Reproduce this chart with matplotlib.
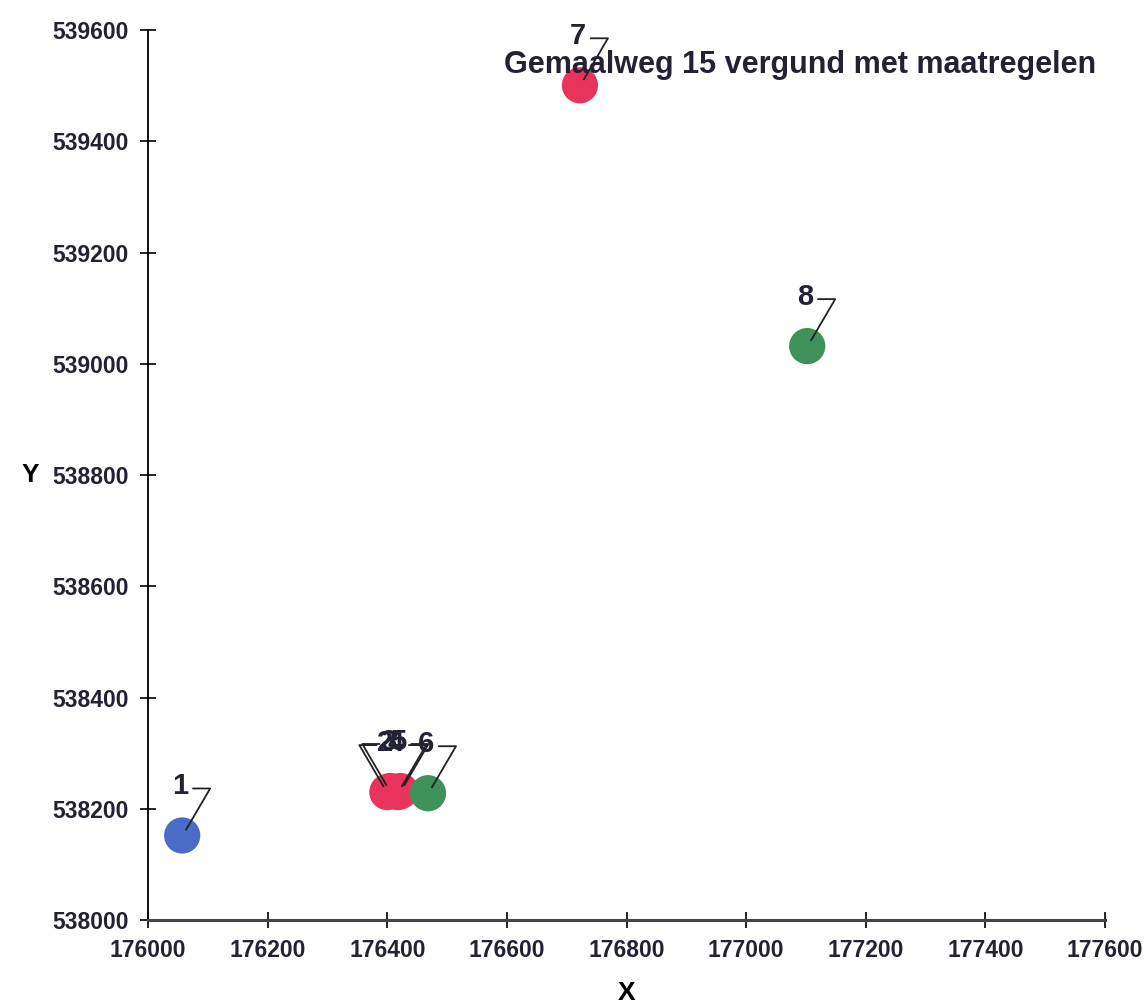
import matplotlib.pyplot as plt
import matplotlib.transforms as mtransforms

plt.rcParams['font.family'] = ['Liberation Sans', 'DejaVu Sans']

labels = ["1", "2", "3", "4", "5", "6", "7", "8"]
x_vals = [176057, 176400, 176405, 176418, 176422, 176468, 176722, 177102]
y_vals = [538152, 538230, 538232, 538230, 538232, 538228, 539501, 539032]
colors = ["#4a6cc6", "#e8345c", "#e8345c", "#e8345c", "#e8345c", "#3e9158", "#e8345c", "#3e9158"]
mirrored = [False, True, True, False, False, False, False, False]
note_text = "Gemaalweg 15 vergund met maatregelen"
note_xy = (176722, 539501)

fig = plt.figure(figsize=(11.48, 10.08), dpi=100)
ax = fig.add_axes([0.129, 0.0873, 0.8336, 0.8827])

ax.scatter(x_vals, y_vals, s=680, c=colors, edgecolors="none", zorder=3)

for lab, x, y, mir in zip(labels, x_vals, y_vals, mirrored):
    base = fig.dpi_scale_trans + mtransforms.ScaledTranslation(x, y, ax.transData)
    sgn = -1 if mir else 1
    xs = [sgn * 0.11, sgn * 0.28, sgn * 0.04]
    ys = [0.47, 0.47, 0.06]
    ax.plot(xs, ys, color="#222222", lw=1.3, transform=base, zorder=4, clip_on=False)
    ax.text(-0.02, 0.49, lab, transform=base, fontsize=21, fontweight="bold",
            ha="center", va="center", color="#222233", zorder=5)

base7 = fig.dpi_scale_trans + mtransforms.ScaledTranslation(*note_xy, ax.transData)
ax.text(2.2, 0.20, note_text, transform=base7, fontsize=22, fontweight="bold",
        ha="center", va="center", color="#222233", zorder=5)

ax.set_xlim(176000, 177600)
ax.set_ylim(538000, 539600)
ax.set_xticks(range(176000, 177601, 200))
ax.set_yticks(range(538000, 539601, 200))
for s in ["top", "right"]:
    ax.spines[s].set_visible(False)
ax.spines["left"].set_linewidth(1.3)
ax.spines["bottom"].set_linewidth(2.2)
ax.spines["bottom"].set_color("#444444")
ax.tick_params(direction="inout", length=12, width=1.2, labelsize=16.5, pad=8)
for t in ax.get_xticklabels() + ax.get_yticklabels():
    t.set_fontweight("bold")
    t.set_color("#222233")

ax.set_xlabel("X", fontsize=19, fontweight="bold", labelpad=13)
ax.set_ylabel("Y", fontsize=19, fontweight="bold", rotation=0, labelpad=16, va="center")

fig.savefig("out.png", dpi=100)
